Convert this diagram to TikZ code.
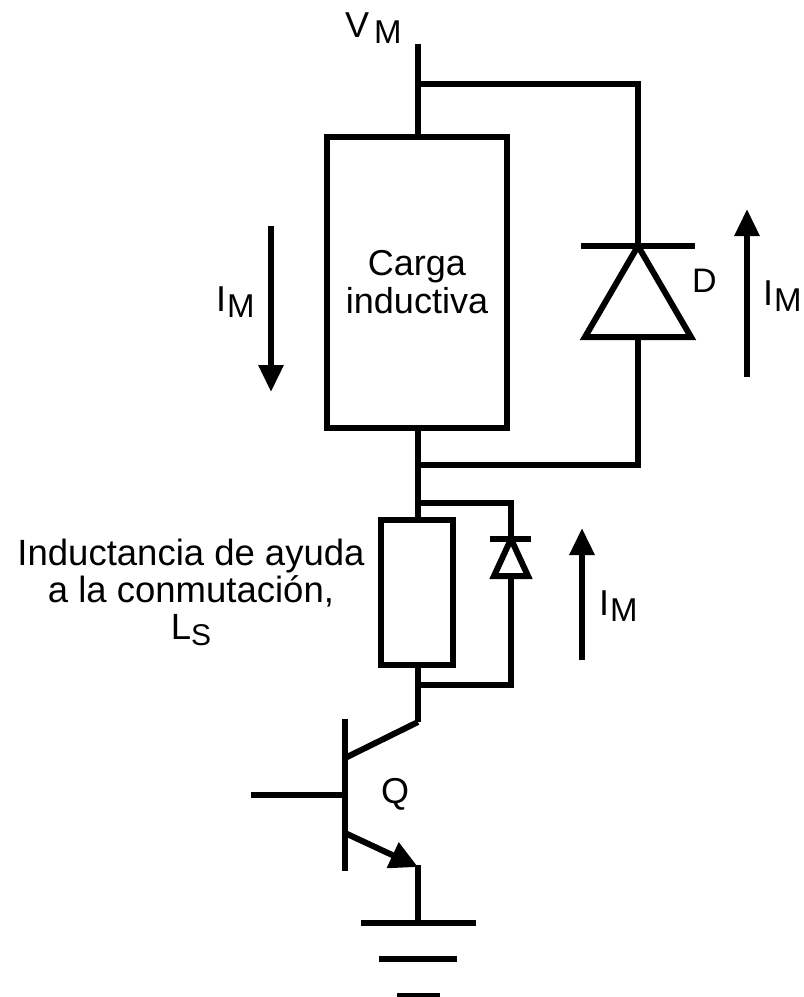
\documentclass[tikz,border=0pt]{standalone}
\usepackage{fontspec}
\setmainfont{Liberation Sans}
\usetikzlibrary{arrows.meta}
\tikzset{
  wire/.style={line width=6pt},
  bloque/.style={draw,line width=6pt,outer sep=0pt,inner sep=0pt,align=center,font=\fontsize{36}{38}\selectfont},
  flecha/.style={line width=6pt,-{Triangle[length=27pt,width=24pt]}},
  rotulo/.style={inner sep=0pt,anchor=base west,font=\fontsize{36}{38}\selectfont}
}
\newcommand{\subM}{\hspace{1pt}\raisebox{-6pt}{\fontsize{33}{38}\selectfont M}}
\begin{document}
\begin{tikzpicture}[x=1pt,y=-1pt]
  \useasboundingbox (0,0) rectangle (804,997);

  \coordinate (VM) at (418,44);
  \coordinate (A) at (418,84);
  \coordinate (B) at (638,84);
  \coordinate (C) at (418,465);
  \coordinate (E) at (638,465);
  \coordinate (F) at (418,503);
  \coordinate (G) at (511,503);
  \coordinate (H) at (418,685);
  \coordinate (J) at (511,685);
  \coordinate (K) at (418,722);

  \node (carga) [bloque,minimum width=180pt,minimum height=291pt] at (417,282.5) {Carga\\inductiva};
  \node (Ls) [bloque,minimum width=72pt,minimum height=145pt] at (417,592.5) {};

  % alimentacion y diodo D
  \draw[wire] (VM) -- (carga.north -| VM);
  \draw[wire] (A) -- (B) -- (638,246);
  \coordinate (D1) at (638,246);
  \coordinate (D2) at (585,337);
  \coordinate (D3) at (691,337);
  \draw[wire] (581,246) -- (695,246);
  \draw[wire,line join=miter] (D1) -- (D2) -- (D3) -- cycle;
  \draw[wire] (638,337) -- (E) -- (C);
  \draw[wire] (carga.south -| VM) -- (Ls.north -| VM);

  % diodo de la inductancia
  \coordinate (d1) at (511,539);
  \coordinate (d2) at (494,576);
  \coordinate (d3) at (528,576);
  \draw[wire] (F) -- (G) -- (d1);
  \draw[wire] (490,539) -- (531,539);
  \draw[wire] (d1) -- (d2) -- (d3) -- cycle;
  \draw[wire] (511,576) -- (J) -- (H);
  \draw[wire] (Ls.south -| VM) -- (K);

  % transistor Q
  \coordinate (Qc) at (345,758);
  \coordinate (Qb) at (345,795);
  \coordinate (Qe) at (345,833);
  \coordinate (Qs) at (418,867);
  \draw[wire] (345,719) -- (345,871);
  \draw[wire] (K) -- (Qc);
  \draw[wire] (251,795) -- (Qb);
  \draw[wire,-{Triangle[length=28pt,width=27pt]}] (Qe) -- (Qs);
  \draw[wire] (418,865) -- (418,923);

  % masa
  \draw[wire] (361,923) -- (476,923);
  \draw[wire] (379,959) -- (457,959);
  \draw[wire] (397,996) -- (440,996);

  % corrientes
  \draw[flecha] (271,226) -- (271,392);
  \draw[flecha] (747,377) -- (747,209);
  \draw[flecha] (582,660) -- (582,528);

  \node[rotulo] (lVM) at (345,37) {V\hspace{4pt}\subM};
  \node[rotulo] (lIa) at (216,311) {I\subM};
  \node[rotulo] (lIb) at (763,305) {I\subM};
  \node[rotulo] (lIc) at (599,615) {I\subM};
  \node[rotulo,font=\fontsize{34}{38}\selectfont] (lD) at (692,292) {D};
  \node[rotulo] (lQ) at (381,803) {Q};
  \node[rotulo,align=center,anchor=center,font=\fontsize{36.5}{37}\selectfont] (lL) at (191,592) {Inductancia de ayuda\\a la conmutación,\\L\raisebox{-6pt}{\fontsize{30}{37}\selectfont S}};
\end{tikzpicture}
\end{document}
